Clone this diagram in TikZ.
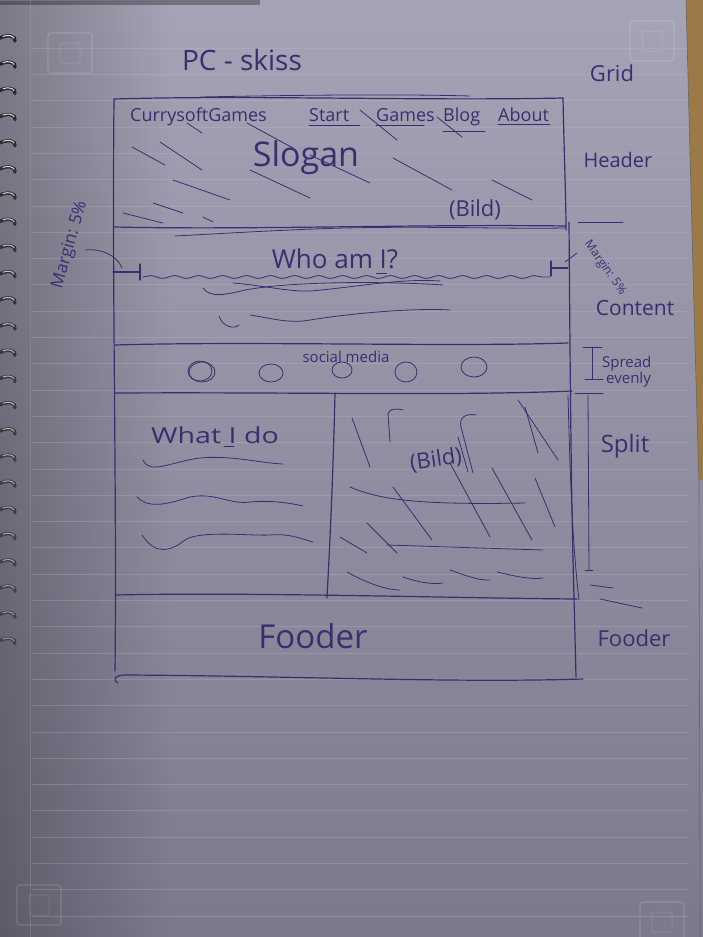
\documentclass[tikz,border=0pt]{standalone}
\usepackage{fontspec}
\setmainfont{Open Sans}
\usetikzlibrary{decorations.pathmorphing,fadings}
\definecolor{paperlight}{HTML}{A5A4B6}
\definecolor{paperdark}{HTML}{7A7A8C}
\definecolor{ink}{HTML}{3A2E70}
\definecolor{ruling}{HTML}{BDBDCB}
\definecolor{woodtone}{HTML}{9C7A47}
\definecolor{ringdark}{HTML}{26262C}
\begin{document}
\begin{tikzpicture}[x=1pt,y=-1pt,
  pen/.style={draw=ink, line width=1.2pt, line cap=round, line join=round},
  thinpen/.style={draw=ink, line width=0.8pt, line cap=round, line join=round},
  ripple/.style={thinpen, decorate, decoration={snake, amplitude=1.4pt, segment length=24pt}},
  hand/.style={text=ink, inner sep=0pt, font=\fontsize{#1}{#1}\selectfont},
  hand/.default=18pt]
\useasboundingbox (0,0) rectangle (703,937);

% --- notebook page -------------------------------------------------------
\shade[top color=paperlight, bottom color=paperdark] (0,0) rectangle (703,937);
\fill[black, opacity=0.25, path fading=east] (0,0) rectangle (170,937);
\fill[black, opacity=0.3] (0,0) rectangle (260,5);
% desk showing past the page edge
\fill[woodtone] (686,0) -- (703,0) -- (703,480) -- (699,480) .. controls (694,320) and (690,150) .. (686,0);
\draw[black!60, line width=0.6pt] (686,0) .. controls (690,150) and (694,320) .. (699,480) -- (700,937);
% ruled lines and margin line
\foreach \k in {0,...,33}{
  \pgfmathsetmacro\yy{48+26.3*\k}
  \draw[ruling, opacity=0.28, line width=0.6pt] (32,\yy) -- (688,\yy);
}
\draw[ruling, opacity=0.22, line width=0.6pt] (30,0) -- (30,937);
% printed corner marks
\foreach \cx/\cy in {48/33, 630/21, 640/902, 17/885}{
  \draw[white, opacity=0.15, line width=1.2pt, rounded corners=3pt] (\cx,\cy) rectangle ++(44,40);
  \draw[white, opacity=0.1, line width=1pt, rounded corners=2pt] (\cx+12,\cy+10) rectangle ++(20,20);
}
% spiral binding
\foreach \k in {0,...,23}{
  \pgfmathsetmacro\yy{38+26.2*\k}
  \pgfmathsetmacro\op{1-0.02*\k}
  \draw[ringdark, opacity=\op, line width=3.4pt, line cap=round]
    (0,\yy) .. controls (8,\yy-4) and (16,\yy-2) .. (15,\yy+3);
  \draw[white!80!gray, opacity=\op, line width=1pt, line cap=round]
    (3,\yy-1.6) .. controls (8,\yy-3.6) and (13,\yy-2.2) .. (14,\yy+0.2);
}

% --- title ---------------------------------------------------------------
\node[hand=28pt] (title) at (242,60) {PC - skiss};

% --- page frame and section lines ---------------------------------------
\coordinate (TL) at (114,99);
\coordinate (TR) at (563,98);
\coordinate (HL) at (114,227);
\coordinate (HR) at (566,226);
\draw[pen] (TL) .. controls (250,95) and (420,101) .. (TR);
\draw[thinpen] (200,97) .. controls (300,95) and (400,94) .. (470,96);
\draw[pen] (TL) .. controls (112,300) and (117,500) .. (115,671);
\draw[pen] (TR) .. controls (564,150) and (566,200) .. (566,230);
\draw[pen] (569,222) .. controls (570,350) and (571,500) .. (574,597) -- (576,677);
\draw[thinpen] (568,395) .. controls (570,470) and (572,540) .. (579,600);
\draw[pen] (HL) .. controls (250,230) and (420,224) .. (HR);
\draw[thinpen] (175,236) .. controls (230,233) and (300,229) .. (345,228) .. controls (430,226) and (500,229) .. (565,228);
\draw[pen] (115,345) .. controls (250,341) and (450,347) .. (568,343);
\draw[pen] (115,393) .. controls (300,392) and (450,396) .. (572,391);
\draw[pen] (335,393) .. controls (333,480) and (330,540) .. (327,598);
\draw[pen] (115,595) .. controls (250,592) and (450,598) .. (577,599);
\draw[pen] (118,683) .. controls (112,680) and (115,675) .. (125,675) .. controls (300,676) and (450,683) .. (583,679);

% --- header: navigation, slogan, image hatching --------------------------
\node[hand=18pt, anchor=base west] (brand) at (130,121) {CurrysoftGames};
\node[hand=18pt, anchor=base west] (start) at (309,121) {Start};
\node[hand=18pt, anchor=base west] (games) at (376,121) {Games};
\node[hand=18pt, anchor=base west] (blog) at (443,121) {Blog};
\node[hand=18pt, anchor=base west] (about) at (498,121) {About};
\draw[thinpen] (start.south west) ++(0,4) -- ++(51,0);
\draw[thinpen] (games.south west) ++(0,4) -- ++(48,0);
\draw[thinpen] (blog.south west) ++(0,6) -- ++(42,0);
\draw[thinpen] (about.south west) ++(0,3) -- ++(52,0);

\node[hand=34pt] (slogan) at (306,158) {Slogan};
\node[hand=22pt] (headerimg) at (475,210) {(Bild)};

\foreach \ax/\ay/\bx/\by in {
  132/147/165/165, 160/142/202/170, 173/180/230/200, 153/203/183/213,
  123/213/163/223, 187/123/202/133, 247/123/293/148, 250/170/310/198,
  310/155/370/183, 360/110/397/140, 437/117/462/137, 393/158/452/190,
  492/180/532/200, 203/217/213/222}{
  \draw[thinpen] (\ax,\ay) -- (\bx,\by);
}

% --- content: who am I ---------------------------------------------------
\node[hand=26pt] (who) at (335,259) {Who am I?};
\draw[thinpen] (who.south east) ++(-22,4) -- ++(10,0);
\coordinate (mL) at (113,272);
\coordinate (mLt) at (140,272);
\draw[pen] (mL) -- (mLt);
\draw[pen] (140,264) -- (140,280);
\coordinate (mR) at (568,268);
\coordinate (mRt) at (551,268);
\draw[pen] (mR) -- (mRt);
\draw[pen] (551,261) -- (551,276);
\draw[ripple] (143,277) -- (550,277);
\draw[thinpen] (203,288) .. controls (210,298) and (225,295) .. (245,290) .. controls (300,280) and (400,282) .. (443,285);
\draw[thinpen] (233,283) .. controls (260,285) and (290,292) .. (310,291) .. controls (350,288) and (400,278) .. (440,281);
\draw[thinpen] (219,316) .. controls (223,328) and (235,329) .. (239,325);
\draw[thinpen] (250,315) .. controls (270,318) and (290,324) .. (310,320) .. controls (360,312) and (420,308) .. (450,310);

% --- content: social media ------------------------------------------------
\node[hand=15pt] (social) at (346,357) {social media};
\draw[thinpen] (202,372) ellipse [x radius=13pt, y radius=10pt];
\draw[thinpen] (200,371) ellipse [x radius=12pt, y radius=10pt];
\draw[thinpen] (271,373) ellipse [x radius=12pt, y radius=9pt];
\draw[thinpen] (342,370) ellipse [x radius=10pt, y radius=8pt];
\draw[thinpen] (406,372) ellipse [x radius=11pt, y radius=10pt];
\draw[thinpen] (474,367) ellipse [x radius=13pt, y radius=10pt];

% --- split: text column ----------------------------------------------------
\node[hand=22pt, xscale=1.3] (whatido) at (215,435) {What I do};
\draw[thinpen] (224,446) -- (234,446);
\draw[thinpen] (143,460) .. controls (150,475) and (170,462) .. (200,458) .. controls (230,455) and (260,463) .. (283,464);
\draw[thinpen] (137,497) .. controls (150,510) and (170,503) .. (190,497) .. controls (215,492) and (230,505) .. (250,502) .. controls (270,500) and (290,503) .. (303,506);
\draw[thinpen] (142,535) .. controls (155,555) and (170,552) .. (185,540) .. controls (200,530) and (250,536) .. (270,535) .. controls (290,533) and (305,540) .. (313,542);

% --- split: image column ---------------------------------------------------
\node[hand=22pt, rotate=8] (splitimg) at (436,460) {(Bild)};
\foreach \ax/\ay/\bx/\by in {
  352/418/370/467, 518/400/558/460, 525/407/538/453, 393/487/432/540,
  450/463/490/537, 492/468/532/540, 535/478/555/527, 367/523/397/553,
  340/537/367/553, 458/437/468/472}{
  \draw[thinpen] (\ax,\ay) -- (\bx,\by);
}
\draw[thinpen] (390,442) -- (388,414) .. controls (389,409) and (395,408) .. (403,410);
\draw[thinpen] (473,473) -- (461,427) .. controls (459,418) and (465,413) .. (476,415);
\draw[thinpen] (350,487) .. controls (380,500) and (420,505) .. (525,503);
\draw[thinpen] (387,545) -- (543,550);
\draw[thinpen] (347,572) .. controls (365,582) and (385,590) .. (400,590);
\draw[thinpen] (403,577) .. controls (415,581) and (430,585) .. (443,583);
\draw[thinpen] (450,570) .. controls (462,574) and (478,581) .. (490,580);
\draw[thinpen] (497,572) .. controls (510,575) and (530,580) .. (543,578);

% --- footer ----------------------------------------------------------------
\node[hand=33pt] (footer) at (313,636) {Fooder};

% --- notes beside the grid -------------------------------------------------
\node[hand=22pt] (gridnote) at (612,73) {Grid};
\node[hand=20pt] (headernote) at (618,160) {Header};
\draw[thinpen] (578,222) -- (623,222);
\node[hand=12pt, rotate=-55] (marginR) at (605,268) {Margin: 5\%};
\draw[thinpen] (565,262) -- (577,253);
\node[hand=21pt] (contentnote) at (635,308) {Content};
\draw[thinpen] (583,347) -- (602,347);
\draw[thinpen] (592,347) -- (592,379);
\draw[thinpen] (585,379) -- (603,379);
\node[hand=15pt, anchor=west] (spread) at (602,364) {Spread};
\node[hand=15pt, anchor=west] (evenly) at (606,380) {evenly};
\draw[thinpen] (575,393) -- (603,393);
\draw[thinpen] (588,395) -- (589,570);
\draw[thinpen] (585,570) -- (593,570);
\node[hand=24pt] (splitnote) at (625,446) {Split};
\draw[thinpen] (590,585) -- (613,588);
\draw[thinpen] (600,599) -- (642,608);
\node[hand=22pt] (footernote) at (634,638) {Fooder};

% left margin note with its pointer
\node[hand=17pt, rotate=74] (marginL) at (70,245) {Margin: 5\%};
\draw[thinpen] (85,250) .. controls (100,248) and (117,255) .. (122,268);
\end{tikzpicture}
\end{document}
